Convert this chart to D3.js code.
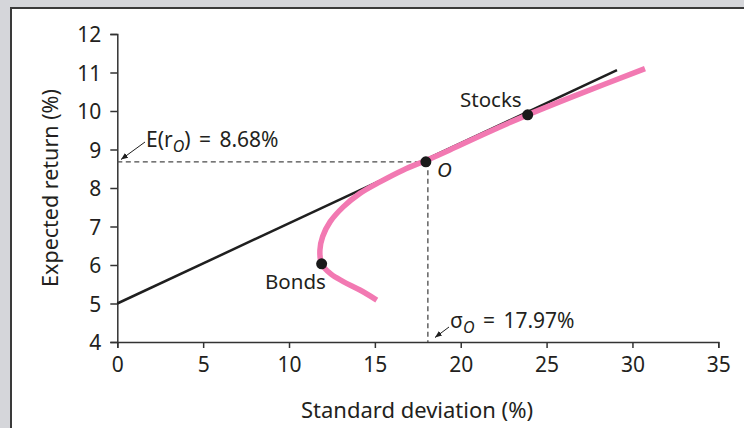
<!DOCTYPE html>
<html>
<head>
<meta charset="utf-8">
<script src="https://cdn.jsdelivr.net/npm/d3@7"></script>
<style>
	body { margin: 0; background: #d5d6da; }
	svg { display: block; }
	text { font-family: "Noto Sans", sans-serif; fill: #231f20; }
</style>
</head>
<body>
<div id="chart"></div>
<script>
// values
const xTicks = [0, 5, 10, 15, 20, 25, 30, 35];
const yTicks = [4, 5, 6, 7, 8, 9, 10, 11, 12];

// opportunity set of bonds and stocks: [std dev, expected return]
const frontier = [
	[15.11, 5.09], [14.13, 5.35], [13.16, 5.57], [12.45, 5.76], [11.9, 6.03],
	[11.8, 6.39], [11.96, 6.74], [12.39, 7.12], [13.16, 7.51], [14.13, 7.86],
	[15.3, 8.16], [16.66, 8.47], [18.0, 8.72], [19.36, 8.99], [21.5, 9.43],
	[23.9, 9.9], [26.56, 10.38], [30.73, 11.1]
];
// capital allocation line
const calLine = [[0, 5], [29.1, 11.06]];

const bonds = [11.9, 6.03];
const stocks = [23.9, 9.9];
const optimal = [17.97, 8.68];

const width = 744;
const height = 428;

const colors = {
	frame: "#d5d6da",
	border: "#3a3a3a",
	axis: "#333333",
	cal: "#1f1f1f",
	frontier: "#f279b2",
	dot: "#1a1a1a",
	dash: "#4a4a4a"
};

const svg = d3.select("#chart")
	.append("svg")
	.attr("width", width)
	.attr("height", height);

// grey frame with white panel
svg.append("rect")
	.attr("width", width).attr("height", height)
	.attr("fill", colors.frame);
svg.append("rect")
	.attr("x", 11).attr("y", 8)
	.attr("width", width).attr("height", height)
	.attr("fill", "#fff");
svg.append("path")
	.attr("d", `M11,${height} V8 H${width}`)
	.attr("fill", "none")
	.attr("stroke", colors.border)
	.attr("stroke-width", 2);

const x = d3.scaleLinear().domain([0, 35]).range([117.3, 718.3]);
const y = d3.scaleLinear().domain([4, 12]).range([342, 34]);

// arrowhead
svg.append("defs").append("marker")
	.attr("id", "arrow")
	.attr("viewBox", "0 0 10 10")
	.attr("refX", 10).attr("refY", 5)
	.attr("markerWidth", 7).attr("markerHeight", 7)
	.attr("markerUnits", "userSpaceOnUse")
	.attr("orient", "auto")
	.append("path")
	.attr("d", "M0,1 L10,5 L0,9 Z")
	.attr("fill", colors.cal);

// axes
const xAxis = svg.append("g")
	.attr("transform", `translate(0,${y(4)})`)
	.call(d3.axisBottom(x).tickValues(xTicks).tickSize(6).tickSizeOuter(6).tickPadding(9));
const yAxis = svg.append("g")
	.attr("transform", `translate(${x(0)},0)`)
	.call(d3.axisLeft(y).tickValues(yTicks).tickSize(7).tickSizeOuter(7).tickPadding(9));

[xAxis, yAxis].forEach(g => {
	g.selectAll("path, line").attr("stroke", colors.axis).attr("stroke-width", 1.5);
	g.selectAll("text")
		.style("font-family", "Noto Sans")
		.style("font-size", "21px")
		.attr("fill", "#231f20");
});
yAxis.selectAll("text").attr("dy", "0.36em");

svg.append("text")
	.attr("x", 417).attr("y", 418)
	.attr("text-anchor", "middle")
	.style("font-size", "22px")
	.text("Standard deviation (%)");
svg.append("text")
	.attr("transform", `translate(58,188) rotate(-90)`)
	.attr("text-anchor", "middle")
	.style("font-size", "21.5px")
	.text("Expected return (%)");

// dashed guides to O
const dashed = svg.append("g")
	.attr("stroke", colors.dash)
	.attr("stroke-width", 1.3)
	.attr("stroke-dasharray", "5,3.5")
	.attr("fill", "none");
dashed.append("line")
	.attr("x1", x(0)).attr("y1", y(optimal[1]))
	.attr("x2", x(optimal[0])).attr("y2", y(optimal[1]));
dashed.append("line")
	.attr("x1", x(optimal[0]) + 2).attr("y1", y(optimal[1]))
	.attr("x2", x(optimal[0]) + 2).attr("y2", y(4));

// capital allocation line
const line = d3.line().x(d => x(d[0])).y(d => y(d[1]));
svg.append("path")
	.attr("d", line(calLine))
	.attr("fill", "none")
	.attr("stroke", colors.cal)
	.attr("stroke-width", 2.5);

// frontier
svg.append("path")
	.attr("d", line.curve(d3.curveCatmullRom)(frontier))
	.attr("fill", "none")
	.attr("stroke", colors.frontier)
	.attr("stroke-width", 5.5);

// points
svg.append("g")
	.selectAll("circle")
	.data([bonds, stocks, optimal])
	.enter()
	.append("circle")
	.attr("cx", d => x(d[0]))
	.attr("cy", d => y(d[1]))
	.attr("r", 5.5)
	.attr("fill", colors.dot);

// labels
const label = (tx, ty, t) => svg.append("text")
	.attr("x", tx).attr("y", ty)
	.style("font-size", "20.5px")
	.text(t);
label(460, 107, "Stocks");
label(265, 289, "Bonds");
label(437, 177, "O").style("font-style", "italic");

// E(r_O) annotation
const eLabel = svg.append("text")
	.attr("x", 146).attr("y", 147)
	.style("font-size", "21px")
	.style("word-spacing", "3px");
eLabel.append("tspan").text("E(r");
eLabel.append("tspan").attr("dy", 5).style("font-size", "16px").style("font-style", "italic").text("O");
eLabel.append("tspan").attr("dy", -5).text(") = 8.68%");
svg.append("line")
	.attr("x1", 145).attr("y1", 142)
	.attr("x2", 121).attr("y2", 159.5)
	.attr("stroke", colors.cal).attr("stroke-width", 1)
	.attr("marker-end", "url(#arrow)");

// sigma_O annotation
const sLabel = svg.append("text")
	.attr("x", 450).attr("y", 328)
	.style("font-size", "21px")
	.style("word-spacing", "3px");
sLabel.append("tspan").text("σ");
sLabel.append("tspan").attr("dy", 5).style("font-size", "16px").style("font-style", "italic").text("O");
sLabel.append("tspan").attr("dy", -5).text(" = 17.97%");
svg.append("line")
	.attr("x1", 449).attr("y1", 327)
	.attr("x2", 435).attr("y2", 337.5)
	.attr("stroke", colors.cal).attr("stroke-width", 1)
	.attr("marker-end", "url(#arrow)");
</script>
</body>
</html>
